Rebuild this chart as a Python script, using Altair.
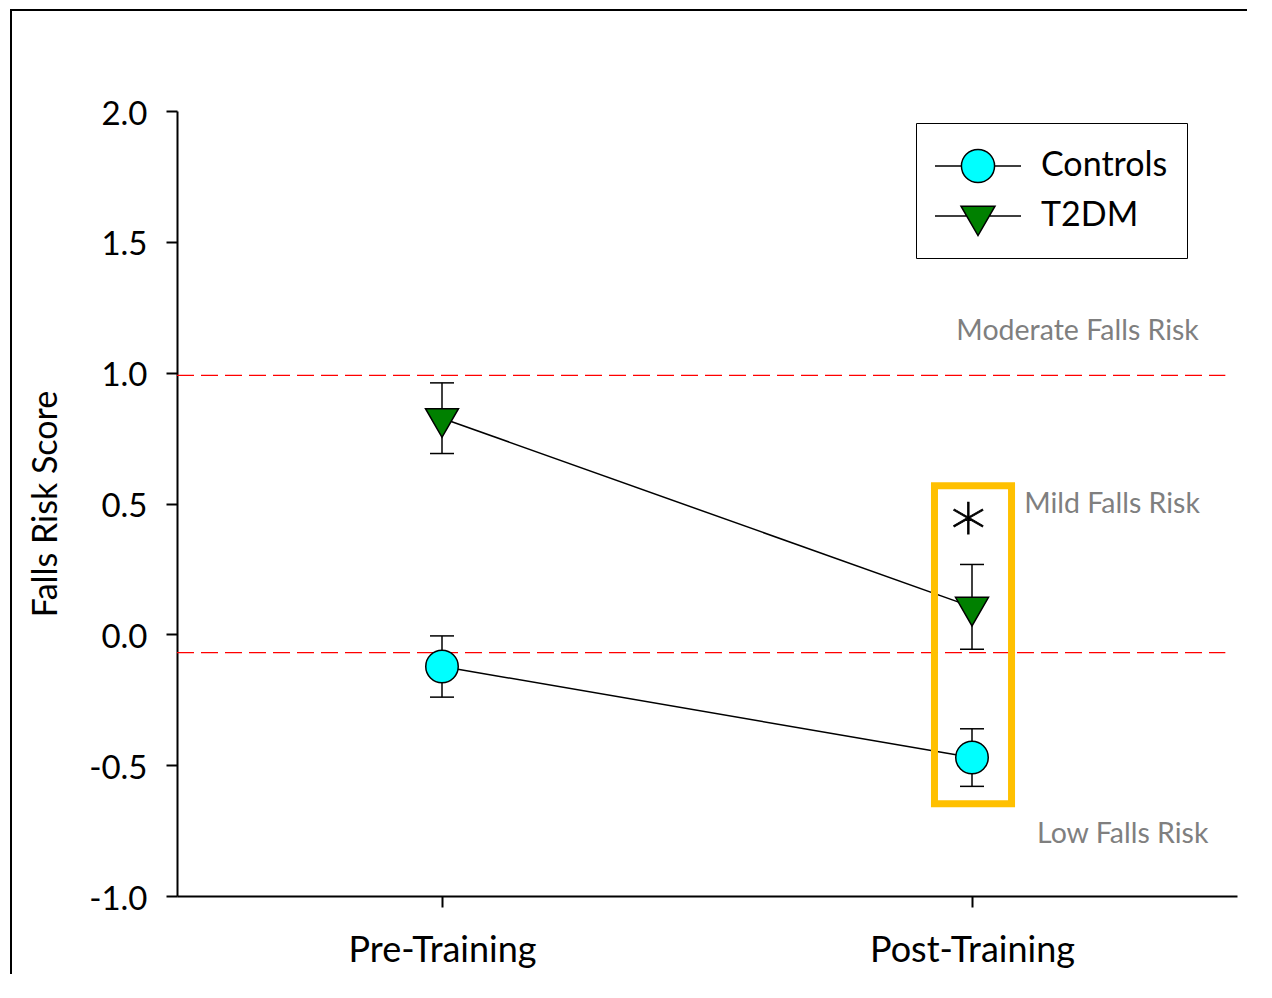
import altair as alt
import pandas as pd

# ---------------- data ----------------
phases = ["Pre-Training", "Post-Training"]
phase_pos = [0.25, 0.75]
groups = ["Controls", "T2DM"]
controls_mean = [-0.123, -0.471]
controls_sem = [0.117, 0.110]
t2dm_mean = [0.826, 0.105]
t2dm_sem = [0.135, 0.162]
y_ticks = [-1.0, -0.5, 0.0, 0.5, 1.0, 1.5, 2.0]

risk_thresholds = [0.99, -0.07]
risk_labels = ["Moderate Falls Risk", "Mild Falls Risk", "Low Falls Risk"]
risk_label_x = [0.964, 0.965, 0.973]
risk_label_y = [1.124, 0.463, -0.798]

highlight_box = {"x": 0.7146, "x2": 0.7873, "y": 0.568, "y2": -0.6476}
signif_mark = {"x": 0.7467, "y": 0.44, "t": "∗"}

rows = []
for g, means, sems in [("Controls", controls_mean, controls_sem),
                       ("T2DM", t2dm_mean, t2dm_sem)]:
    for ph, xp, m, s in zip(phases, phase_pos, means, sems):
        rows.append(dict(group=g, phase=ph, x=xp, mean=m, lo=m - s, hi=m + s))
df = pd.DataFrame(rows)

thr_df = pd.DataFrame({"y": risk_thresholds, "x": [0.0] * 2, "x2": [0.989] * 2})
lab_df = pd.DataFrame({"label": risk_labels, "x": risk_label_x, "y": risk_label_y})
box_df = pd.DataFrame([highlight_box])
sig_df = pd.DataFrame([signif_mark])

FONT = "Lato"
xs = alt.Scale(domain=[0, 1], nice=False, zero=False)
ys = alt.Scale(domain=[-1, 2], nice=False, zero=False)

x_expr = " : ".join(f"abs(datum.value - {p}) < 0.01 ? '{c}'" for p, c in zip(phase_pos, phases)) + " : ''"
x_axis = alt.Axis(values=phase_pos, labelExpr=x_expr, title=None, grid=False,
                  tickSize=11, tickWidth=2, tickColor="black",
                  domainWidth=2, domainColor="black",
                  labelFont=FONT, labelFontSize=36, labelColor="black",
                  labelPadding=26, labelAngle=0, labelLimit=500)
y_axis = alt.Axis(values=y_ticks,
                  labelExpr="(datum.value < 0 ? '-' : '') + format(abs(datum.value), '.1f')",
                  title="Falls Risk Score", titleFont=FONT, titleFontSize=34,
                  titleFontWeight="normal", titleColor="black", titlePadding=25,
                  grid=False, tickSize=11, tickWidth=2, tickColor="black",
                  domainWidth=2, domainColor="black",
                  labelFont=FONT, labelFontSize=33, labelColor="black",
                  labelPadding=19, labelOffset=3)


def X(field):
    return alt.X(field, type="quantitative", scale=xs, axis=x_axis)


def Y(field):
    return alt.Y(field, type="quantitative", scale=ys, axis=y_axis)


# page frame (decoration)
frame = alt.Chart(pd.DataFrame({"k": [0]})).mark_rect(
    fillOpacity=0, stroke="black", strokeWidth=2
).encode(x=alt.value(-166), x2=alt.value(1200), y=alt.value(-101), y2=alt.value(1000))

thr = alt.Chart(thr_df).mark_rule(color="#FF0000", strokeWidth=1.3, strokeDash=[17, 7]).encode(
    x=X("x"), x2="x2", y=Y("y"))

lines = alt.Chart(df).mark_line(color="black", strokeWidth=1.5).encode(
    x=X("x"), y=Y("mean"), detail="group:N")

box = alt.Chart(box_df).mark_rect(fillOpacity=0, stroke="#FFC000", strokeWidth=7).encode(
    x=X("x"), x2="x2", y=Y("y"), y2="y2")

err = alt.Chart(df).mark_rule(color="black", strokeWidth=1.5).encode(
    x=X("x"), y=Y("lo"), y2="hi")

caps = alt.Chart(df).transform_fold(["lo", "hi"], as_=["end", "v"]).mark_tick(
    orient="horizontal", size=24, thickness=1.5, color="black", opacity=1).encode(
    x=X("x"), y=Y("v"))

tri_path = "M-1,-0.577L1,-0.577L0,1.155Z"
pts_c = alt.Chart(df).transform_filter(alt.datum.group == "Controls").mark_point(
    shape="circle", filled=True, fill="#00FFFF", stroke="black", strokeWidth=1.5,
    size=1056, opacity=1).encode(x=X("x"), y=Y("mean"))
pts_t = alt.Chart(df).transform_filter(alt.datum.group == "T2DM").mark_point(
    shape=tri_path, filled=True, fill="#008000", stroke="black", strokeWidth=1.5,
    size=1089, opacity=1).encode(x=X("x"), y=Y("mean"))

sig = alt.Chart(sig_df).mark_text(font="DejaVu Sans", fontWeight=300, fontSize=70, color="black",
                                  stroke="black", strokeWidth=0.8,
                                  baseline="middle", align="center").encode(
    x=X("x"), y=Y("y"), text="t:N")

labels = alt.Chart(lab_df).mark_text(font=FONT, fontSize=28.5, color="#7F7F7F",
                                     align="right", baseline="alphabetic").encode(
    x=X("x"), y=Y("y"), text="label:N")

# legend-only layer (no drawn data; entries come from the scale domain)
leg_circle = "M-1.87,0L-0.72,0M0.72,0L1.87,0M-0.72,0A0.72,0.72,0,1,1,0.72,0A0.72,0.72,0,1,1,-0.72,0Z"
leg_tri = "M-1.87,0L-0.493,0M0.493,0L1.87,0M-0.739,-0.426L0.739,-0.426L0,0.852Z"
leg = alt.Legend(title=None, orient="none", legendX=739, legendY=12, padding=19,
                 strokeColor="black", fillColor="white",
                 symbolOffset=19, labelOffset=39, rowPadding=6,
                 labelFont=FONT, labelFontSize=34, labelColor="black",
                 symbolStrokeColor="black", symbolStrokeWidth=1.5, symbolSize=2116,
                 symbolOpacity=1, labelLimit=400)
legend_layer = alt.Chart(df).transform_filter("false").mark_point(
    filled=True, strokeWidth=1.5, size=2116, opacity=1).encode(
    x=X("x"), y=Y("mean"),
    shape=alt.Shape("group:N", scale=alt.Scale(domain=groups, range=[leg_circle, leg_tri]),
                    legend=leg),
    fill=alt.Fill("group:N", scale=alt.Scale(domain=groups, range=["#00FFFF", "#008000"]),
                  legend=leg),
    stroke=alt.Stroke("group:N", scale=alt.Scale(domain=groups, range=["black", "black"]),
                      legend=leg),
)

chart = alt.layer(frame, thr, lines, box, err, caps, pts_c, pts_t, sig, labels, legend_layer).properties(
    width=1060, height=785,
    autosize=alt.AutoSizeParams(type="none"),
    padding={"left": 169, "top": 103, "right": 10, "bottom": 78},
    view=alt.ViewBackground(stroke="white", strokeWidth=0, strokeOpacity=0),
).configure_view(stroke="white", strokeWidth=0, strokeOpacity=0).configure_legend(
    strokeWidth=2,
).configure(background="white")

chart.save("out.html", embed_options={"renderer": "svg", "actions": False})
